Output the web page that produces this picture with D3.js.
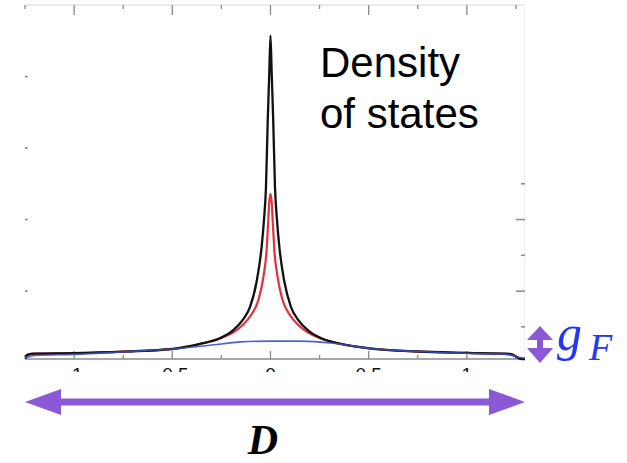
<!DOCTYPE html>
<html>
<head>
<meta charset="utf-8">
<script src="https://cdn.jsdelivr.net/npm/d3@7"></script>
<style>
  body { margin: 0; background: #fff; }
  svg { display: block; }
</style>
</head>
<body>
<div class="chart"></div>
<script>
// ---- data ----
var xTicksMajor = [-1, -0.5, 0, 0.5, 1];
var xTicksMinor = [-1.25, -0.75, -0.25, 0.25, 0.75, 1.25];
var xTickLabels = ["-1", "-0.5", "0", "0.5", "1"];
var yTicksLeft = [1, 2, 3, 4];
var yTicksRight = [0.5, 1, 1.5, 2, 2.5];

// black curve (full DOS)
var blackX = [-1.25, -1.245, -1.235, -1.2, -1.0, -0.75, -0.5, -0.359, -0.257, -0.191, -0.14, -0.104, -0.07, -0.045, -0.033, -0.023, -0.014, -0.006, 0,
              0.006, 0.014, 0.023, 0.033, 0.045, 0.07, 0.104, 0.14, 0.191, 0.257, 0.359, 0.5, 0.75, 1.0, 1.22, 1.28, 1.296];
var blackY = [0.05, 0.09, 0.11, 0.125, 0.133, 0.154, 0.19, 0.26, 0.34, 0.45, 0.6, 0.78, 1.14, 1.62, 2.0, 2.45, 3.38, 4.06, 4.57,
              4.06, 3.38, 2.45, 2.0, 1.62, 1.14, 0.78, 0.6, 0.45, 0.34, 0.26, 0.2, 0.155, 0.135, 0.12, 0.05, 0.05];

// red curve
var redX = [-1.25, -1.245, -1.235, -1.2, -1.0, -0.75, -0.5, -0.359, -0.257, -0.191, -0.14, -0.1, -0.061, -0.036, -0.019, -0.012, -0.006, 0,
            0.006, 0.012, 0.019, 0.036, 0.061, 0.1, 0.14, 0.191, 0.257, 0.359, 0.5, 0.75, 1.0, 1.22, 1.28, 1.296];
var redY = [0.05, 0.09, 0.11, 0.125, 0.133, 0.154, 0.19, 0.26, 0.34, 0.42, 0.53, 0.66, 0.88, 1.2, 1.6, 1.95, 2.25, 2.36,
            2.25, 1.95, 1.6, 1.2, 0.88, 0.66, 0.53, 0.42, 0.34, 0.26, 0.2, 0.155, 0.135, 0.12, 0.05, 0.05];

// blue curve (flat)
var blueX = [-1.25, -1.2, -1.0, -0.75, -0.5, -0.25, -0.15, 0, 0.15, 0.32, 0.5, 0.75, 1.0, 1.2, 1.27, 1.296];
var blueY = [0.065, 0.1, 0.115, 0.15, 0.19, 0.26, 0.29, 0.30, 0.30, 0.27, 0.2, 0.155, 0.13, 0.115, 0.07, 0.06];

// ---- svg setup ----
var svgWidth = 627;
var svgHeight = 463;

var svg = d3.select(".chart")
    .append("svg")
    .attr("width", svgWidth)
    .attr("height", svgHeight);

var xScale = d3.scaleLinear()
    .domain([-1.25, 1.296])
    .range([25, 525]);

var yScale = d3.scaleLinear()
    .domain([0.05, 5])
    .range([359, 5]);

var x0 = xScale.range()[0], x1 = xScale.range()[1];
var yTop = yScale.range()[1], yBot = yScale.range()[0];

// clip for plot area
svg.append("clipPath").attr("id", "plotclip")
    .append("rect")
    .attr("x", x0).attr("y", 0)
    .attr("width", x1 - x0).attr("height", yBot + 2);

// frame
svg.append("line").attr("x1", x0).attr("x2", x1).attr("y1", yTop).attr("y2", yTop)
    .attr("stroke", "#d8d8d8").attr("stroke-width", 1);
svg.append("line").attr("x1", x1 - 0.5).attr("x2", x1 - 0.5).attr("y1", yTop).attr("y2", yBot)
    .attr("stroke", "#efefef").attr("stroke-width", 1);
svg.append("line").attr("x1", x0).attr("x2", x1).attr("y1", yBot).attr("y2", yBot)
    .attr("stroke", "#8a8a8a").attr("stroke-width", 1.3);

// top ticks
svg.append("g").selectAll("line").data(xTicksMajor).enter().append("line")
    .attr("x1", d => xScale(d)).attr("x2", d => xScale(d))
    .attr("y1", yTop).attr("y2", yTop + 10)
    .attr("stroke", "#8a8a8a").attr("stroke-width", 1.3);
svg.append("g").selectAll("line").data(xTicksMinor).enter().append("line")
    .attr("x1", d => xScale(d)).attr("x2", d => xScale(d))
    .attr("y1", yTop).attr("y2", yTop + 4)
    .attr("stroke", "#8a8a8a").attr("stroke-width", 1.3);

// bottom ticks
svg.append("g").selectAll("line").data(xTicksMajor).enter().append("line")
    .attr("x1", d => xScale(d)).attr("x2", d => xScale(d))
    .attr("y1", yBot).attr("y2", yBot - 8)
    .attr("stroke", "#8a8a8a").attr("stroke-width", 1.3);
svg.append("g").selectAll("line").data(xTicksMinor).enter().append("line")
    .attr("x1", d => xScale(d)).attr("x2", d => xScale(d))
    .attr("y1", yBot).attr("y2", yBot - 4)
    .attr("stroke", "#8a8a8a").attr("stroke-width", 1.3);

// left ticks (faint)
svg.append("g").selectAll("line").data(yTicksLeft).enter().append("line")
    .attr("x1", x0).attr("x2", x0 + 2.5)
    .attr("y1", d => yScale(d)).attr("y2", d => yScale(d))
    .attr("stroke", "#777").attr("stroke-width", 1.5);

// right ticks
svg.append("g").selectAll("line").data(yTicksRight).enter().append("line")
    .attr("x1", d => (d % 1 === 0) ? x1 - 9 : x1 - 4).attr("x2", x1)
    .attr("y1", d => yScale(d)).attr("y2", d => yScale(d))
    .attr("stroke", "#8a8a8a").attr("stroke-width", 1.5);

// tick labels, clipped at the bottom (cut off in the picture)
svg.append("clipPath").attr("id", "labelclip")
    .append("rect").attr("x", 0).attr("y", 360).attr("width", svgWidth).attr("height", 12);
svg.append("g").attr("clip-path", "url(#labelclip)")
    .selectAll("text").data(xTicksMajor).enter().append("text")
    .attr("x", d => xScale(d))
    .attr("y", 381)
    .attr("text-anchor", "middle")
    .style("font-family", "Arial, 'Liberation Sans', sans-serif")
    .style("font-size", "19px")
    .attr("fill", "#111")
    .text((d, i) => xTickLabels[i]);

// curves
var line = d3.line()
    .x(d => xScale(d[0]))
    .y(d => yScale(d[1]))
    .curve(d3.curveMonotoneX);

var plot = svg.append("g").attr("clip-path", "url(#plotclip)");

plot.append("path")
    .attr("d", line(redX.map((v, i) => [v, redY[i]])))
    .attr("fill", "none").attr("stroke", "#e2323c").attr("stroke-width", 2.2);

plot.append("path")
    .attr("d", line(blackX.map((v, i) => [v, blackY[i]])))
    .attr("fill", "none").attr("stroke", "#111").attr("stroke-width", 2.3);

plot.append("path")
    .attr("d", line(blueX.map((v, i) => [v, blueY[i]])))
    .attr("fill", "none").attr("stroke", "#3552c0").attr("stroke-width", 1.6)
    .attr("opacity", 0.9);

// annotation text
var label = svg.append("text")
    .style("font-family", "Arial, 'Liberation Sans', sans-serif")
    .style("font-size", "42px")
    .attr("fill", "#000");
label.append("tspan").attr("x", 320).attr("y", 77).text("Density");
label.append("tspan").attr("x", 320).attr("y", 128).text("of states");

// purple double arrow for bandwidth D
var purple = "#8b58d6";
var ay = 402;
svg.append("rect")
    .attr("x", x0 + 30).attr("y", ay - 3.5)
    .attr("width", x1 - x0 - 60).attr("height", 7)
    .attr("fill", purple);
svg.append("path")
    .attr("d", `M${x0},${ay} L${x0 + 36},${ay - 13} L${x0 + 36},${ay + 13} Z`)
    .attr("fill", purple);
svg.append("path")
    .attr("d", `M${x1},${ay} L${x1 - 36},${ay - 13} L${x1 - 36},${ay + 13} Z`)
    .attr("fill", purple);

svg.append("text")
    .attr("x", (x0 + x1) / 2 - 12).attr("y", 454)
    .attr("text-anchor", "middle")
    .style("font-family", "'Liberation Serif', 'Times New Roman', serif")
    .style("font-size", "42px")
    .style("font-style", "italic")
    .style("font-weight", "bold")
    .attr("fill", "#000")
    .text("D");

// small vertical double arrow for g_F
var gx = 540;
svg.append("path")
    .attr("d", `M${gx},326 L${gx + 13},340 L${gx - 13},340 Z`)
    .attr("fill", purple);
svg.append("rect")
    .attr("x", gx - 3).attr("y", 339).attr("width", 6).attr("height", 9)
    .attr("fill", purple);
svg.append("path")
    .attr("d", `M${gx},363 L${gx + 13},348 L${gx - 13},348 Z`)
    .attr("fill", purple);

var gf = svg.append("text")
    .style("font-family", "'Liberation Serif', 'Times New Roman', serif")
    .style("font-style", "italic")
    .attr("fill", "#2438f2");
gf.append("tspan").attr("x", 557).attr("y", 350).style("font-size", "50px").text("g");
gf.append("tspan").attr("x", 589).attr("y", 360).style("font-size", "38px").text("F");
</script>
</body>
</html>
